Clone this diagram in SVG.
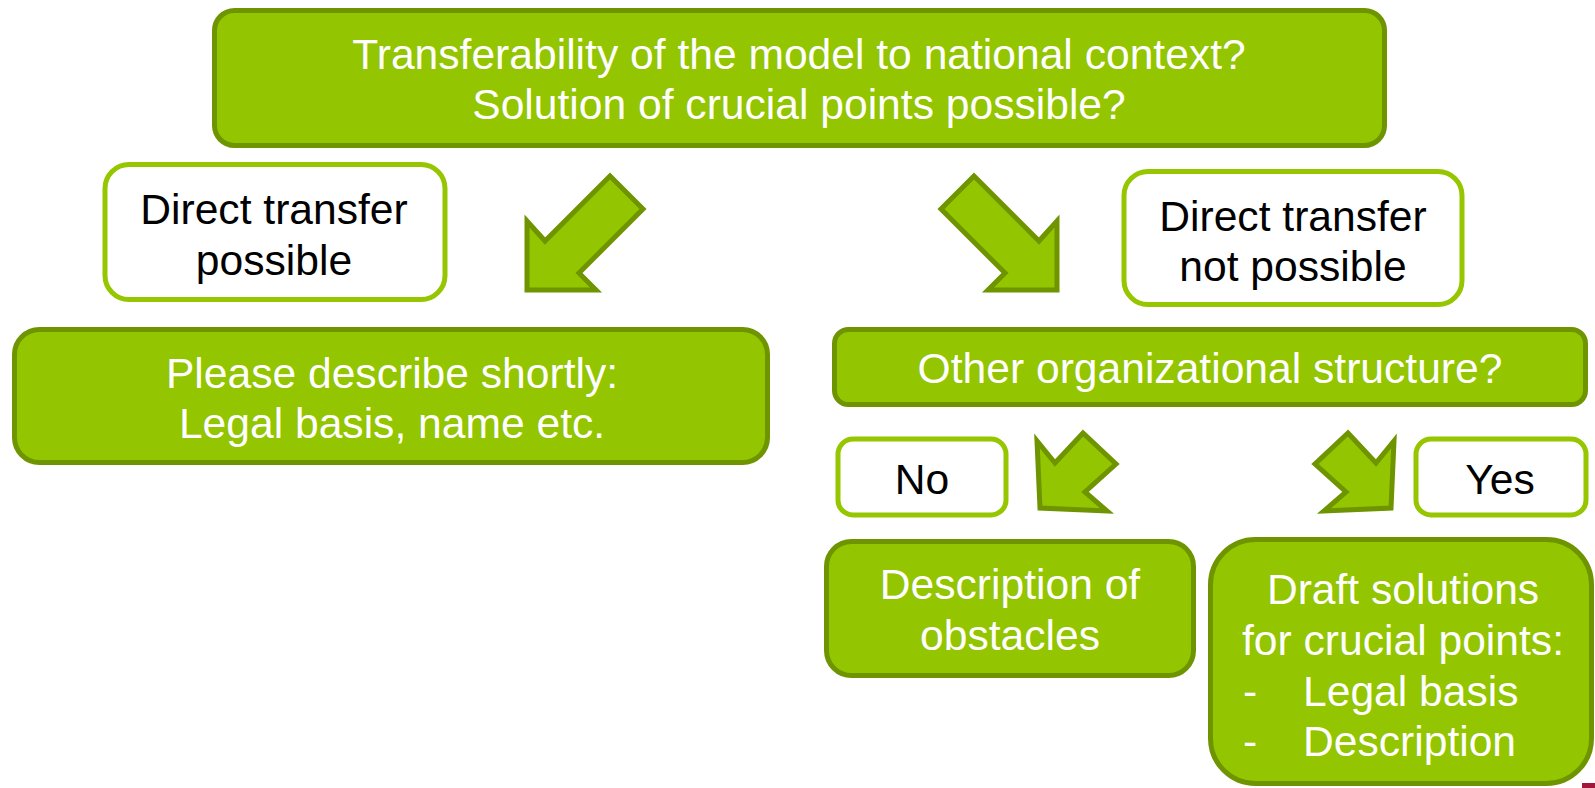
<svg xmlns="http://www.w3.org/2000/svg" width="1595" height="788" viewBox="0 0 1595 788">
  <style>
    .box { fill: #93c500; stroke: #6e9400; stroke-width: 5; }
    .tag { fill: #ffffff; stroke: #95c600; stroke-width: 5; }
    .arrow { fill: #93c500; stroke: #6e9400; stroke-width: 5; stroke-linejoin: miter; }
    text { font-family: "Liberation Sans", Arial, sans-serif; font-size: 42.6px; }
    .w { fill: #ffffff; text-anchor: middle; }
    .k { fill: #000000; text-anchor: middle; }
    .wl { fill: #ffffff; }
  </style>
  <rect width="1595" height="788" fill="#ffffff"/>

  <!-- block arrows -->
  <g id="connectors">
    <polygon class="arrow" points="527,221 527,290 596,290 579,273 643,209 610,176 545,241"/>
    <polygon class="arrow" points="1057,221 1057,290 988,290 1005,273 941,209 974,176 1039,241"/>
    <polygon class="arrow" points="1037,441 1040,508 1107,511 1085,492 1116,464 1083,433 1055,463"/>
    <polygon class="arrow" points="1394,441 1391,508 1324,511 1346,492 1315,464 1348,433 1376,463"/>
  </g>

  <g id="question">
    <rect class="box" x="214.5" y="10.5" width="1170" height="135" rx="20"/>
    <text class="w" x="799" y="69">Transferability of the model to national context?</text>
    <text class="w" x="799" y="119">Solution of crucial points possible?</text>
  </g>

  <g id="direct-possible">
    <rect class="tag" x="105" y="164.5" width="340" height="135" rx="24"/>
    <text class="k" x="274" y="224">Direct transfer</text>
    <text class="k" x="274" y="275">possible</text>
  </g>

  <g id="direct-not-possible">
    <rect class="tag" x="1124" y="171.5" width="338" height="133" rx="24"/>
    <text class="k" x="1293" y="231">Direct transfer</text>
    <text class="k" x="1293" y="281">not possible</text>
  </g>

  <g id="describe">
    <rect class="box" x="14.5" y="329.5" width="753" height="133" rx="25"/>
    <text class="w" x="392" y="388">Please describe shortly:</text>
    <text class="w" x="392" y="438">Legal basis, name etc.</text>
  </g>

  <g id="other-structure">
    <rect class="box" x="834.5" y="329.5" width="751" height="75" rx="14"/>
    <text class="w" x="1210" y="383">Other organizational structure?</text>
  </g>

  <g id="no">
    <rect class="tag" x="838" y="439" width="168" height="76" rx="15"/>
    <text class="k" x="922" y="494">No</text>
  </g>

  <g id="yes">
    <rect class="tag" x="1416" y="439" width="170" height="76" rx="15"/>
    <text class="k" x="1500" y="494">Yes</text>
  </g>

  <g id="obstacles">
    <rect class="box" x="826.5" y="541.5" width="367" height="134" rx="25"/>
    <text class="w" x="1010" y="599">Description of</text>
    <text class="w" x="1010" y="650">obstacles</text>
  </g>

  <g id="draft">
    <rect class="box" x="1210.5" y="539.5" width="381" height="244" rx="45"/>
    <text class="w" x="1403" y="604">Draft solutions</text>
    <text class="w" x="1403" y="655">for crucial points:</text>
    <text class="wl" x="1243" y="706">-</text>
    <text class="wl" x="1303" y="706">Legal basis</text>
    <text class="wl" x="1243" y="756">-</text>
    <text class="wl" x="1303" y="756">Description</text>
  </g>

  <!-- edge of a footer mark -->
  <rect x="1582" y="783" width="13" height="5" fill="#a3173c"/>
</svg>
